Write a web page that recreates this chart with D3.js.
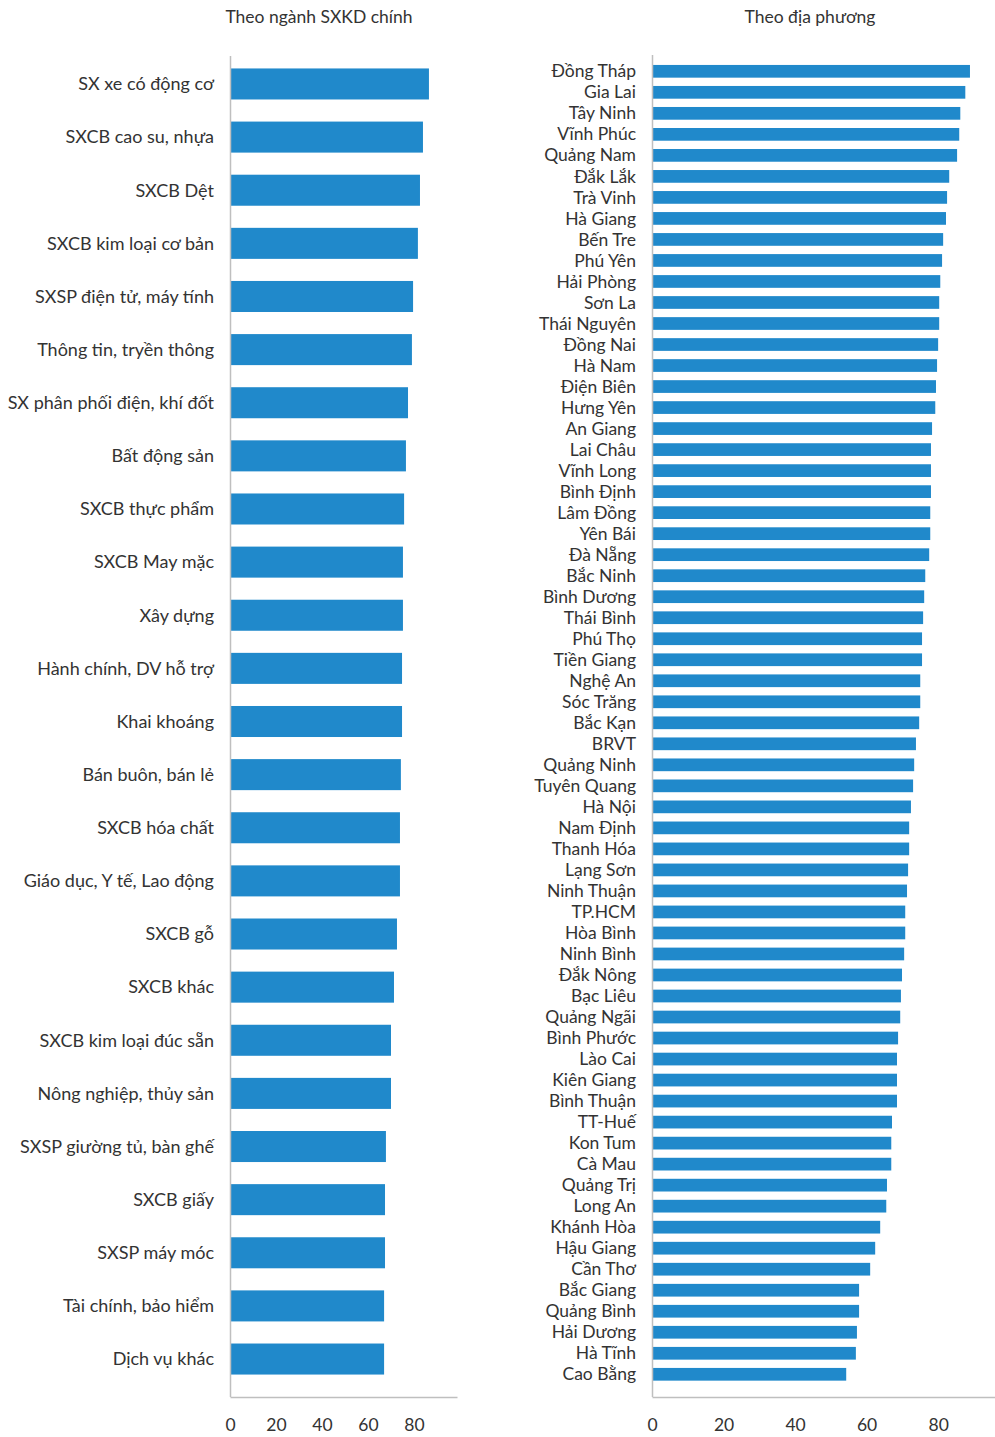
<!DOCTYPE html>
<html>
<head>
<meta charset="utf-8">
<script src="https://cdn.jsdelivr.net/npm/d3@7"></script>
<style>
  html, body { margin: 0; padding: 0; background: #fff; }
  svg text { font-family: Lato, "Open Sans", sans-serif; fill: #333; }
</style>
</head>
<body>
<svg id="chart" width="995" height="1437"></svg>
<script>
const sectorCategories = [
  "SX xe có động cơ", "SXCB cao su, nhựa", "SXCB Dệt", "SXCB kim loại cơ bản",
  "SXSP điện tử, máy tính", "Thông tin, tryền thông", "SX phân phối điện, khí đốt",
  "Bất động sản", "SXCB thực phẩm", "SXCB May mặc", "Xây dựng", "Hành chính, DV hỗ trợ",
  "Khai khoáng", "Bán buôn, bán lẻ", "SXCB hóa chất", "Giáo dục, Y tế, Lao động",
  "SXCB gỗ", "SXCB khác", "SXCB kim loại đúc sẵn", "Nông nghiệp, thủy sản",
  "SXSP giường tủ, bàn ghế", "SXCB giấy", "SXSP máy móc", "Tài chính, bảo hiểm", "Dịch vụ khác"
];
const sectorValues = [
  86.5, 83.9, 82.6, 81.7, 79.6, 79.1, 77.4, 76.5, 75.7, 75.2, 75.2, 74.8,
  74.8, 74.3, 73.9, 73.9, 72.6, 71.3, 70.0, 70.0, 67.8, 67.4, 67.4, 67.0, 67.0
];
const provinceCategories = [
  "Đồng Tháp", "Gia Lai", "Tây Ninh", "Vĩnh Phúc", "Quảng Nam", "Đắk Lắk", "Trà Vinh",
  "Hà Giang", "Bến Tre", "Phú Yên", "Hải Phòng", "Sơn La", "Thái Nguyên", "Đồng Nai",
  "Hà Nam", "Điện Biên", "Hưng Yên", "An Giang", "Lai Châu", "Vĩnh Long", "Bình Định",
  "Lâm Đồng", "Yên Bái", "Đà Nẵng", "Bắc Ninh", "Bình Dương", "Thái Bình", "Phú Thọ",
  "Tiền Giang", "Nghệ An", "Sóc Trăng", "Bắc Kạn", "BRVT", "Quảng Ninh", "Tuyên Quang",
  "Hà Nội", "Nam Định", "Thanh Hóa", "Lạng Sơn", "Ninh Thuận", "TP.HCM", "Hòa Bình",
  "Ninh Bình", "Đắk Nông", "Bạc Liêu", "Quảng Ngãi", "Bình Phước", "Lào Cai", "Kiên Giang",
  "Bình Thuận", "TT-Huế", "Kon Tum", "Cà Mau", "Quảng Trị", "Long An", "Khánh Hòa",
  "Hậu Giang", "Cần Thơ", "Bắc Giang", "Quảng Bình", "Hải Dương", "Hà Tĩnh", "Cao Bằng"
];
const provinceValues = [
  88.9, 87.6, 86.2, 85.9, 85.3, 83.1, 82.5, 82.2, 81.4, 81.1, 80.6, 80.3, 80.3, 80.0,
  79.7, 79.4, 79.2, 78.3, 78.0, 78.0, 78.0, 77.8, 77.8, 77.5, 76.4, 76.1, 75.8, 75.5,
  75.5, 75.0, 75.0, 74.7, 73.8, 73.3, 73.0, 72.4, 71.9, 71.9, 71.6, 71.3, 70.8, 70.8,
  70.5, 69.9, 69.6, 69.4, 68.8, 68.5, 68.5, 68.5, 67.1, 66.9, 66.9, 65.7, 65.5, 63.8,
  62.4, 61.0, 57.9, 57.9, 57.3, 57.0, 54.3
];
const tickValues = [0, 20, 40, 60, 80];
const titles = ["Theo ngành SXKD chính", "Theo địa phương"];

const BAR = "#2089cb";
const AXIS = "#bfbfbf";
const svg = d3.select("#chart");

function panel(cfg) {
  const { cats, vals, xRange, xMax, yRange, pad, axisTop, axisBottom, title, titleX, fontSize } = cfg;
  const x = d3.scaleLinear().domain([0, xMax]).range(xRange);
  const y = d3.scaleBand().domain(cats).range(yRange).paddingInner(pad).paddingOuter(pad / 2);
  const g = svg.append("g");

  g.selectAll("rect").data(cats).join("rect")
    .attr("x", x(0))
    .attr("y", d => y(d))
    .attr("width", (d, i) => x(vals[i]) - x(0))
    .attr("height", y.bandwidth())
    .attr("fill", BAR);

  g.selectAll("text.cat").data(cats).join("text")
    .attr("class", "cat")
    .attr("x", x(0) - 16)
    .attr("y", d => y(d) + y.bandwidth() / 2)
    .attr("dy", "0.35em")
    .attr("text-anchor", "end")
    .style("font-size", fontSize + "px")
    .text(d => d);

  g.append("line")
    .attr("x1", x(0) + 0.5).attr("x2", x(0) + 0.5)
    .attr("y1", axisTop).attr("y2", axisBottom)
    .attr("stroke", AXIS).attr("stroke-width", 1.5);

  const ax = g.append("g")
    .attr("transform", `translate(0,${axisBottom})`)
    .call(d3.axisBottom(x).tickValues(tickValues).tickSize(0).tickPadding(22).tickSizeOuter(0));
  ax.select(".domain").attr("stroke", AXIS).attr("stroke-width", 1.5);
  ax.selectAll("text").style("font-size", "17.5px").style("font-family", "Lato, 'Open Sans', sans-serif").attr("fill", "#333");

  svg.append("text")
    .attr("x", titleX).attr("y", 23)
    .attr("text-anchor", "middle")
    .style("font-size", "17.5px")
    .text(title);
}

panel({
  cats: sectorCategories, vals: sectorValues,
  xRange: [230, 457], xMax: 98.7,
  yRange: [57.4, 1385.6], pad: 0.416,
  axisTop: 56, axisBottom: 1397,
  title: titles[0], titleX: 319, fontSize: 18
});
panel({
  cats: provinceCategories, vals: provinceValues,
  xRange: [652, 995], xMax: 95.9,
  yRange: [60.8, 1384.8], pad: 0.395,
  axisTop: 55, axisBottom: 1397,
  title: titles[1], titleX: 810, fontSize: 17.5
});
</script>
</body>
</html>
